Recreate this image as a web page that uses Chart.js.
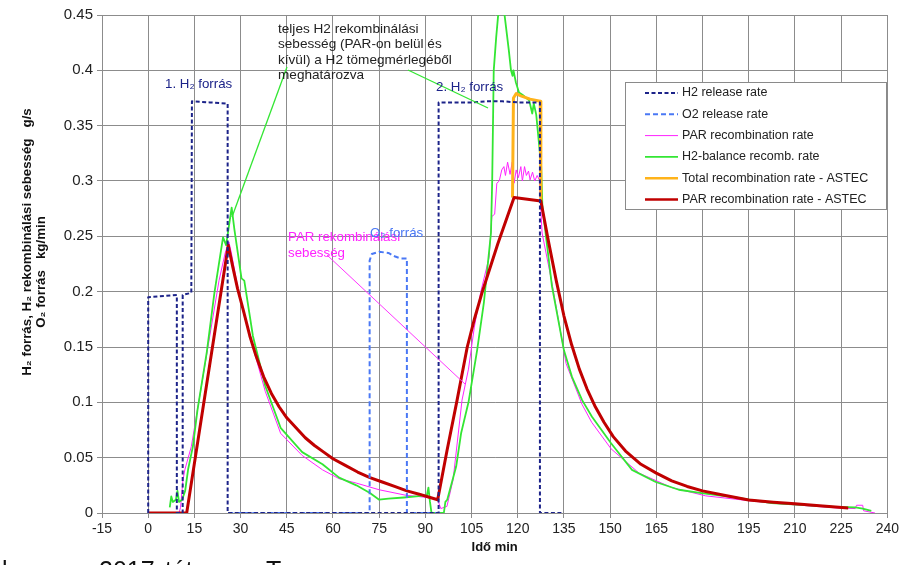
<!DOCTYPE html>
<html><head><meta charset="utf-8">
<script src="https://cdn.jsdelivr.net/npm/chart.js@4/dist/chart.umd.min.js"></script>
<style>
html,body{margin:0;padding:0;background:#fff;}
#wrap{position:relative;width:902px;height:565px;overflow:hidden;background:#fff;}
canvas{display:block;}
.cap{position:absolute;top:556px;font:25px "Liberation Sans",Arial,sans-serif;color:#111;white-space:pre;}
</style></head><body>
<div id="wrap"><canvas id="c" width="902" height="565"></canvas>
<div class="cap" style="left:2px">l</div><div class="cap" style="left:99px">2017</div><div class="cap" style="left:165px">tát</div><div class="cap" style="left:266px">T</div></div>
<script>
// ---- axis ticks ----
const xTickValues = [-15,0,15,30,45,60,75,90,105,120,135,150,165,180,195,210,225,240];
const yTickLabels = ['0','0.05','0.1','0.15','0.2','0.25','0.3','0.35','0.4','0.45'];

// ---- series labels ----
const seriesLabels = ['H2 release rate','O2 release rate','PAR recombination rate','H2-balance recomb. rate','Total recombination rate - ASTEC','PAR recombination rate - ASTEC'];

// ---- H2 release rate (min, g/s) ----
const h2Time = [0,0,5,9.3,9.3,11.2,11.2,14,14.2,20,25.8,25.8,94.3,94.3,105,110,115,120,127.2,127.2,135];
const h2Rate = [0,0.195,0.196,0.197,0,0,0.197,0.199,0.372,0.371,0.370,0,0,0.371,0.371,0.372,0.372,0.371,0.371,0,0];

// ---- O2 release rate (min, kg/min) ----
const o2Time = [26,71.9,71.9,72.6,75,78,80,82,84,84,95];
const o2Rate = [0,0,0.228,0.234,0.236,0.235,0.232,0.230,0.230,0,0];

// ---- PAR recombination rate (measured) ----
const parTime = [10,10.5,11.3,11.9,13,14,17,20,23,25,26.2,27,29,31,34,38,43,50,56.6,62,67.6,75,83.7,92.2,94,95,97,99,101.9,104,105.9,108,110.7,111.6,112.5,113.2,114,114.8,115.5,116,116.7,117.5,118.2,118.8,119.5,120.2,121,121.5,122.2,122.8,123.5,124,124.8,125.5,126.3,127,127.9,131.1,135.7,140.9,144,150.3,159.4,170,181,202,224,229.6,230,232,232.3,236];
const parRate = [0,0.005,0.03,0.039,0.05,0.06,0.11,0.16,0.21,0.235,0.245,0.235,0.205,0.18,0.15,0.11,0.072,0.052,0.039,0.031,0.027,0.021,0.016,0.0136,0.012,0.004,0.006,0.03,0.102,0.13,0.168,0.2,0.231,0.268,0.27,0.298,0.3,0.31,0.313,0.305,0.317,0.306,0.317,0.298,0.31,0.303,0.313,0.3,0.313,0.305,0.309,0.301,0.308,0.3,0.305,0.301,0.253,0.208,0.135,0.098,0.082,0.058,0.036,0.023,0.0155,0.009,0.0045,0.004,0.007,0.007,0.002,0];

// ---- H2-balance recombination rate ----
const balTime = [7,7.5,8,9,9.5,10,11,12,13,14.5,16,19,21.5,24.3,25.3,27.1,28,30.3,31.2,34,38,43,50,56.6,62,67.6,72,75,78,83,87,90.5,91,91.5,92,96,96.5,97.1,100,101.6,104,106.8,109,111.3,111.7,112.2,113,113.8,115.5,117.1,117.8,118.3,118.6,119.4,120.4,121.5,123.7,124.7,125.2,126,127.6,128,131.1,135,137.6,140.9,144.1,150.3,157.1,164.8,172.3,179.7,191.7,202.4,224.1,229.6,232,234.8];
const balRate = [0.005,0.015,0.01,0.012,0.02,0.01,0.012,0.02,0.04,0.06,0.093,0.145,0.199,0.249,0.242,0.276,0.256,0.212,0.21,0.16,0.115,0.077,0.055,0.044,0.032,0.025,0.018,0.012,0.013,0.014,0.015,0.016,0.023,0.01,0,0,0.01,0.012,0.042,0.072,0.1,0.147,0.19,0.253,0.3,0.4,0.43,0.455,0.455,0.418,0.40,0.395,0.40,0.389,0.38,0.378,0.373,0.361,0.37,0.36,0.313,0.277,0.205,0.147,0.123,0.102,0.087,0.063,0.039,0.028,0.021,0.018,0.0136,0.009,0.0054,0.005,0.004,0.002];

// ---- Total recombination rate - ASTEC (differs from PAR-ASTEC only on the plateau) ----
const totTime = [118.3,118.6,119.5,121,124,127.3,127.5];
const totRate = [0.285,0.375,0.379,0.377,0.374,0.372,0.282];

// ---- PAR recombination rate - ASTEC ----
const astecTime = [0,12.5,26,27.5,29,31,33,35,37.5,40,42.5,45,48,51,54,57,60,64,68,72,76,80,84,88,91,94,97,100.3,103.6,106,108.5,113.5,118.8,127.5,130,132.5,135,137.5,140,142.5,145,148,151,155,160,165,170,175,180,187,195,203,210,218,227.3];
const astecRate = [0,0,0.242,0.222,0.203,0.182,0.160,0.142,0.123,0.108,0.096,0.086,0.077,0.068,0.061,0.055,0.049,0.043,0.037,0.032,0.028,0.024,0.020,0.017,0.0145,0.012,0.056,0.102,0.15,0.176,0.2,0.243,0.285,0.282,0.245,0.21,0.178,0.152,0.130,0.112,0.097,0.082,0.069,0.056,0.044,0.036,0.029,0.024,0.020,0.016,0.0118,0.0098,0.0083,0.0065,0.0045];

const pts = (t, v) => t.map((x, i) => ({x: x, y: v[i]}));

const FONT = '"Liberation Sans", Arial, sans-serif';

const datasets = [
  {label: seriesLabels[0], data: pts(h2Time, h2Rate), borderColor: '#1c2389', borderWidth: 2, borderDash: [4, 2.5], order: 0},
  {label: seriesLabels[1], data: pts(o2Time, o2Rate), borderColor: '#4a78f5', borderWidth: 2, borderDash: [5, 3], order: 1},
  {label: seriesLabels[2], data: pts(parTime, parRate), borderColor: '#ff22ff', borderWidth: 1, order: 5},
  {label: seriesLabels[3], data: pts(balTime, balRate), borderColor: '#33e633', borderWidth: 1.8, order: 4},
  {label: seriesLabels[4], data: pts(totTime, totRate), borderColor: '#ffb31a', borderWidth: 3, order: 3},
  {label: seriesLabels[5], data: pts(astecTime, astecRate), borderColor: '#c00000', borderWidth: 3, order: 2}
];
datasets.forEach(d => { d.pointRadius = 0; d.fill = false; d.tension = 0; d.borderJoinStyle = 'round'; });

const annotate = {
  id: 'annotate',
  afterDatasetsDraw(chart) {
    const ctx = chart.ctx;
    ctx.save();
    // leader lines
    ctx.lineWidth = 1.3;
    ctx.strokeStyle = '#33e633';
    ctx.beginPath(); ctx.moveTo(287, 67); ctx.lineTo(232, 217); ctx.stroke();
    ctx.beginPath(); ctx.moveTo(408, 70); ctx.lineTo(488, 108); ctx.stroke();
    ctx.lineWidth = 1;
    ctx.strokeStyle = '#ff33ff';
    ctx.beginPath(); ctx.moveTo(327, 255); ctx.lineTo(465, 384); ctx.stroke();

    ctx.textBaseline = 'alphabetic';
    ctx.textAlign = 'left';
    ctx.font = '13.6px ' + FONT;
    ctx.fillStyle = '#222';
    const lines = ['teljes H2 rekombinálási', 'sebesség (PAR-on belül és', 'kívül) a H2 tömegmérlegéből', 'meghatározva'];
    lines.forEach((s, i) => ctx.fillText(s, 278, 33 + i * 15.4));

    ctx.font = '13.3px ' + FONT;
    ctx.fillStyle = '#1c2389';
    ctx.fillText('1. H₂ forrás', 165, 88);
    ctx.fillText('2. H₂ forrás', 436, 91);
    ctx.fillStyle = '#ff22ff';
    ctx.fillText('PAR rekombinálási', 288, 241);
    ctx.fillText('sebesség', 288, 257);
    ctx.fillStyle = '#4a78f5';
    ctx.fillText('O₂ forrás', 370, 237);

    // legend
    const lx = 625, ly = 82, lw = 261, lh = 127;
    ctx.fillStyle = '#fff';
    ctx.fillRect(lx, ly, lw, lh);
    ctx.strokeStyle = '#8a8a8a';
    ctx.lineWidth = 1;
    ctx.strokeRect(lx + 0.5, ly + 0.5, lw, lh);
    ctx.font = '12.5px ' + FONT;
    ctx.textBaseline = 'middle';
    chart.data.datasets.forEach((d, i) => {
      const y = 93 + i * 21.3;
      ctx.strokeStyle = d.borderColor;
      ctx.lineWidth = Math.min(d.borderWidth, 2.5);
      ctx.setLineDash(d.borderDash || []);
      ctx.beginPath(); ctx.moveTo(645, y); ctx.lineTo(678, y); ctx.stroke();
      ctx.setLineDash([]);
      ctx.fillStyle = '#222';
      ctx.fillText(d.label, 682, y);
    });

    // y axis title
    ctx.fillStyle = '#111';
    ctx.font = 'bold 13.3px ' + FONT;
    ctx.textAlign = 'center';
    ctx.save(); ctx.translate(27, 242); ctx.rotate(-Math.PI / 2);
    ctx.fillText('H₂ forrás, H₂ rekombinálási sebesség   g/s', 0, 0); ctx.restore();
    ctx.save(); ctx.translate(41, 272); ctx.rotate(-Math.PI / 2);
    ctx.fillText('O₂ forrás   kg/min', 0, 0); ctx.restore();
    ctx.restore();
  }
};

new Chart(document.getElementById('c'), {
  type: 'line',
  data: {datasets: datasets},
  plugins: [annotate],
  options: {
    responsive: false,
    animation: false,
    parsing: true,
    layout: {padding: {left: 0, right: 13, top: 15, bottom: 0}},
    plugins: {legend: {display: false}, tooltip: {enabled: false}},
    scales: {
      x: {
        type: 'linear', min: -15, max: 240,
        afterBuildTicks: s => { s.ticks = xTickValues.map(v => ({value: v})); },
        afterFit: s => { s.height = 52; },
        grid: {color: '#8c8c8c', lineWidth: 1, tickLength: 5, drawTicks: true},
        border: {color: '#8c8c8c'},
        ticks: {color: '#222', font: {family: FONT, size: 14}, maxRotation: 0, autoSkip: false, padding: 3},
        title: {display: true, text: 'Idő min', color: '#111', font: {family: FONT, size: 13, weight: 'bold'}, padding: {top: 4, bottom: 10}}
      },
      y: {
        min: 0, max: 0.45,
        afterBuildTicks: s => { s.ticks = yTickLabels.map((l, i) => ({value: i * 0.05})); },
        afterFit: s => { s.width = 102; },
        grid: {color: '#8c8c8c', lineWidth: 1, tickLength: 5},
        border: {color: '#8c8c8c'},
        ticks: {color: '#222', font: {family: FONT, size: 15}, padding: 4, callback: (v, i) => yTickLabels[i]}
      }
    }
  }
});
</script>
</body></html>
